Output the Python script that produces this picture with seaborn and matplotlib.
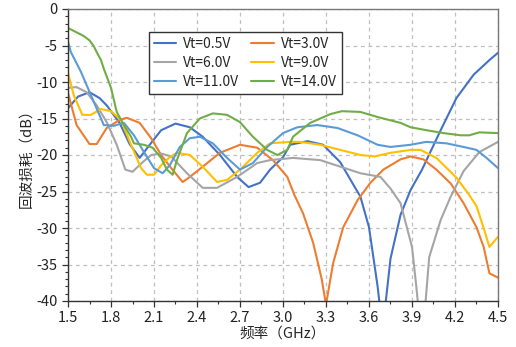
import numpy as np
import pandas as pd
import matplotlib
matplotlib.use("Agg")
import matplotlib.pyplot as plt
from matplotlib.ticker import MultipleLocator
import seaborn as sns

labels = ["Vt=0.5V", "Vt=3.0V", "Vt=6.0V", "Vt=9.0V", "Vt=11.0V", "Vt=14.0V"]
colors = ["#4472C4", "#ED7D31", "#A5A5A5", "#FFC000", "#5B9BD5", "#70AD47"]

f_05 = [1.50, 1.57, 1.65, 1.72, 1.77, 1.86, 1.93, 2.00, 2.07, 2.15, 2.25, 2.35, 2.44, 2.56, 2.68, 2.76, 2.84, 2.91, 3.00, 3.05, 3.17, 3.28, 3.40, 3.48, 3.54, 3.60, 3.66, 3.695, 3.75, 3.82, 3.89, 3.97, 4.10, 4.21, 4.33, 4.44, 4.50]
v_05 = [-13.6, -12.0, -11.4, -12.2, -13.2, -15.6, -18.5, -20.4, -18.6, -16.6, -15.7, -16.2, -17.5, -20.0, -23.0, -24.4, -23.8, -22.0, -20.3, -18.6, -18.1, -18.6, -21.0, -23.7, -25.7, -29.9, -38.0, -44.0, -34.2, -28.2, -24.8, -22.0, -16.6, -12.2, -9.0, -7.0, -6.0]

f_30 = [1.50, 1.56, 1.65, 1.70, 1.77, 1.86, 1.91, 2.00, 2.08, 2.15, 2.22, 2.30, 2.35, 2.44, 2.56, 2.70, 2.82, 2.93, 3.03, 3.08, 3.14, 3.21, 3.27, 3.30, 3.35, 3.42, 3.52, 3.61, 3.70, 3.82, 3.89, 3.98, 4.07, 4.17, 4.26, 4.35, 4.40, 4.44, 4.50]
v_30 = [-11.5, -15.9, -18.5, -18.5, -16.3, -15.2, -14.9, -15.6, -17.7, -20.0, -21.8, -23.7, -23.0, -21.6, -19.7, -18.6, -19.0, -20.7, -23.0, -25.5, -28.0, -32.0, -37.0, -40.5, -34.8, -29.9, -26.2, -23.8, -22.0, -20.6, -20.2, -20.6, -22.0, -23.9, -26.6, -29.9, -32.6, -36.2, -36.8]

f_60 = [1.50, 1.56, 1.63, 1.70, 1.77, 1.84, 1.90, 1.95, 2.02, 2.08, 2.15, 2.22, 2.33, 2.44, 2.54, 2.68, 2.82, 2.91, 3.07, 3.26, 3.40, 3.54, 3.68, 3.75, 3.82, 3.90, 3.93, 3.97, 4.02, 4.10, 4.17, 4.26, 4.37, 4.50]
v_60 = [-10.8, -10.7, -11.4, -13.2, -15.5, -18.6, -22.0, -22.3, -21.0, -20.0, -19.8, -20.2, -22.5, -24.5, -24.5, -23.0, -21.1, -20.7, -20.4, -20.7, -21.6, -22.5, -23.0, -24.6, -26.6, -32.6, -38.0, -46.0, -34.0, -28.9, -25.7, -22.2, -19.6, -18.2]

f_90 = [1.50, 1.54, 1.60, 1.66, 1.73, 1.80, 1.87, 1.94, 2.01, 2.05, 2.10, 2.15, 2.21, 2.26, 2.35, 2.44, 2.54, 2.61, 2.70, 2.82, 2.91, 3.05, 3.12, 3.26, 3.40, 3.54, 3.64, 3.75, 3.89, 3.96, 4.07, 4.21, 4.30, 4.35, 4.40, 4.44, 4.50]
v_90 = [-8.8, -11.8, -14.5, -14.5, -13.7, -14.0, -15.2, -18.6, -21.8, -22.7, -22.7, -21.4, -20.3, -19.7, -20.0, -21.6, -23.7, -23.4, -22.0, -19.7, -18.4, -18.2, -18.2, -18.6, -19.3, -20.0, -20.2, -19.7, -19.3, -19.3, -20.4, -23.1, -25.5, -27.0, -30.0, -32.6, -31.2]

f_110 = [1.50, 1.52, 1.59, 1.66, 1.71, 1.75, 1.82, 1.89, 1.96, 2.03, 2.10, 2.16, 2.21, 2.28, 2.35, 2.42, 2.51, 2.61, 2.70, 2.79, 2.89, 3.00, 3.10, 3.24, 3.38, 3.52, 3.66, 3.75, 3.89, 4.00, 4.14, 4.26, 4.35, 4.42, 4.50]
v_110 = [-4.5, -5.9, -8.6, -11.8, -14.1, -15.9, -16.0, -15.6, -17.3, -19.6, -21.8, -22.5, -21.4, -18.9, -17.7, -17.5, -18.4, -20.4, -22.0, -21.1, -18.9, -17.0, -16.2, -15.9, -16.3, -17.3, -18.6, -18.9, -18.6, -18.2, -18.4, -18.9, -19.3, -20.4, -21.8]

f_140 = [1.50, 1.56, 1.61, 1.65, 1.68, 1.70, 1.73, 1.75, 1.80, 1.84, 1.89, 1.94, 1.96, 2.03, 2.09, 2.15, 2.19, 2.23, 2.26, 2.33, 2.42, 2.51, 2.61, 2.70, 2.79, 2.89, 2.96, 3.03, 3.07, 3.19, 3.33, 3.41, 3.54, 3.66, 3.82, 3.89, 4.00, 4.12, 4.24, 4.30, 4.37, 4.50]
v_140 = [-2.6, -3.2, -3.7, -4.3, -5.1, -5.9, -7.0, -8.2, -10.8, -14.1, -15.9, -17.5, -18.4, -18.6, -19.0, -20.4, -22.0, -22.7, -20.7, -17.0, -15.0, -14.3, -14.5, -15.5, -17.5, -19.3, -20.0, -19.3, -17.5, -15.6, -14.4, -14.0, -14.1, -14.8, -15.6, -16.2, -16.6, -17.0, -17.3, -17.3, -16.9, -17.0]

freqs = [f_05, f_30, f_60, f_90, f_110, f_140]
vals = [v_05, v_30, v_60, v_90, v_110, v_140]

rows = []
for lab, fs, vs in zip(labels, freqs, vals):
    for fq, v in zip(fs, vs):
        rows.append({"freq": fq, "rl": v, "Vt": lab})
df = pd.DataFrame(rows)

sns.set_style("white")
plt.rcParams['font.family'] = ['Noto Sans CJK SC', 'DejaVu Sans']
plt.rcParams['axes.unicode_minus'] = False

fig = plt.figure(figsize=(5.16, 3.47), dpi=100)
ax = fig.add_axes([68/516, 1-301/347, 430/516, 292/347])

sns.lineplot(data=df, x="freq", y="rl", hue="Vt", hue_order=labels,
             palette=dict(zip(labels, colors)), sort=False, estimator=None,
             linewidth=1.5, ax=ax)

ax.set_xlim(1.5, 4.5)
ax.set_ylim(-40, 0)
ax.xaxis.set_major_locator(MultipleLocator(0.3))
ax.xaxis.set_minor_locator(MultipleLocator(0.15))
ax.yaxis.set_major_locator(MultipleLocator(5))
ax.yaxis.set_minor_locator(MultipleLocator(1))
ax.set_xticks(np.arange(1.5, 4.51, 0.3))
ax.set_xticklabels([f"{t:.1f}" for t in np.arange(1.5, 4.51, 0.3)])
ax.grid(True, which="major", linestyle=(0, (3, 3)), color="#BFBFBF", linewidth=0.9)
ax.tick_params(which="major", direction="out", length=4, width=0.9, colors="#333333", labelsize=10.5, labelcolor="#222222")
ax.tick_params(which="minor", direction="out", length=2.5, width=0.8, colors="#333333")
ax.tick_params(axis="both", which="both", bottom=True, left=True)
for s in ax.spines.values():
    s.set_color("#333333")
    s.set_linewidth(1.0)
ax.spines["right"].set_color("#777777")
ax.spines["top"].set_color("#777777")

ax.set_xlabel("频率（GHz）", fontsize=10.5, labelpad=1)
ax.set_ylabel("回波损耗（dB）", fontsize=10.5, labelpad=2)

handles, labs = ax.get_legend_handles_labels()
order = [0, 2, 4, 1, 3, 5]
leg = ax.legend([handles[i] for i in order], [labs[i] for i in order], ncol=2,
                loc="upper left", bbox_to_anchor=(0.188, 0.921), borderaxespad=0,
                fontsize=10, frameon=True, fancybox=False, framealpha=1,
                edgecolor="#333333", handlelength=1.6, columnspacing=0.9,
                labelspacing=0.37, borderpad=0.35, handletextpad=0.5)
leg.get_frame().set_linewidth(1.0)

fig.savefig("out.png", dpi=100)
